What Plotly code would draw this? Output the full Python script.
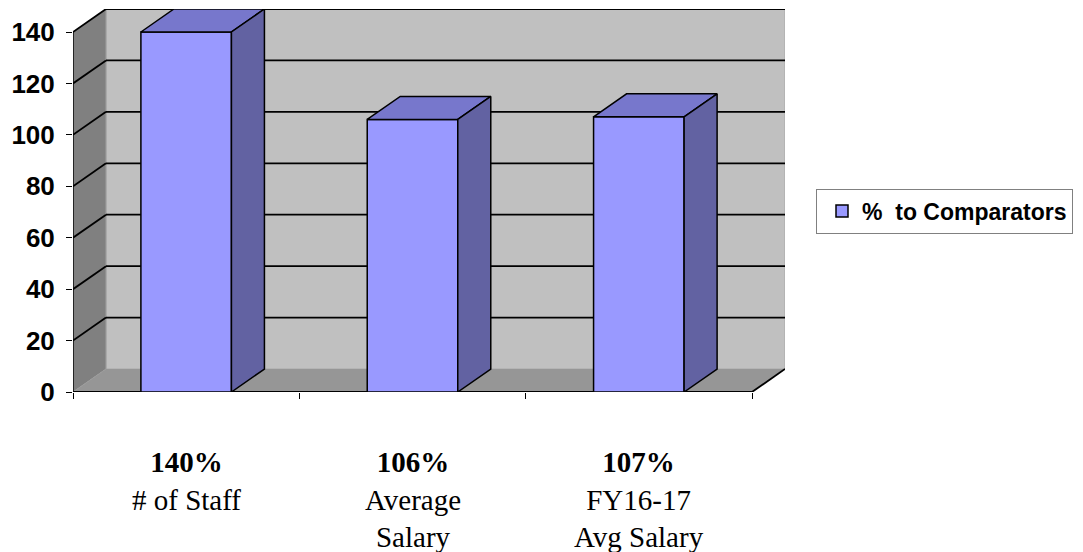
import plotly.graph_objects as go

# ---- data ----
categories = ["# of Staff", "Average<br>Salary", "FY16-17<br>Avg Salary"]
values = [140, 106, 107]
series_name = "%  to Comparators"
y_ticks = [0, 20, 40, 60, 80, 100, 120, 140]

# ---- geometry / style ----
W, H = 1083, 552
L, R, T, B = 73, 298, 9, 160
plot_w = W - L - R
plot_h = H - T - B
DEPTH_X_PX, DEPTH_Y_PX = 33, 23

n = len(categories)
ymax = max(y_ticks)
dx = DEPTH_X_PX * n / (plot_w - DEPTH_X_PX)
dy = DEPTH_Y_PX * ymax / (plot_h - DEPTH_Y_PX)
x0, x1 = -0.5, n - 0.5
bw = 0.4

FRONT = "#9999FF"
TOP = "#7777CC"
SIDE = "#6262A2"
BACKWALL = "#C0C0C0"
SIDEWALL = "#808080"
FLOOR = "#969696"

shapes = []
# back wall
shapes.append(dict(type="rect", xref="x", yref="y", layer="below",
                   x0=x0 + dx, x1=x1 + dx, y0=dy, y1=ymax + dy,
                   fillcolor=BACKWALL, line=dict(color="#A8A8A8", width=1)))
# left wall
shapes.append(dict(type="path", xref="x", yref="y", layer="below",
                   path=f"M{x0},0 L{x0},{ymax} L{x0+dx},{ymax+dy} L{x0+dx},{dy} Z",
                   fillcolor=SIDEWALL, line=dict(color="#A0A0A0", width=1)))
# floor
shapes.append(dict(type="path", xref="x", yref="y", layer="below",
                   path=f"M{x0},0 L{x1},0 L{x1+dx},{dy} L{x0+dx},{dy} Z",
                   fillcolor=FLOOR, line=dict(width=0)))
# gridlines on walls
for t in y_ticks:
    if t == 0:
        continue
    shapes.append(dict(type="line", xref="x", yref="y", layer="below",
                       x0=x0 + dx, x1=x1 + dx, y0=t + dy, y1=t + dy,
                       line=dict(color="black", width=1.8)))
    shapes.append(dict(type="line", xref="x", yref="y", layer="below",
                       x0=x0, x1=x0 + dx, y0=t, y1=t + dy,
                       line=dict(color="black", width=1.8)))
# front edges
shapes.append(dict(type="line", xref="x", yref="y", layer="below",
                   x0=x0, x1=x0, y0=0, y1=ymax, line=dict(color="black", width=1.5)))
shapes.append(dict(type="line", xref="x", yref="y", layer="below",
                   x0=x0, x1=x1, y0=0, y1=0, line=dict(color="black", width=2.2)))
shapes.append(dict(type="line", xref="x", yref="y", layer="below",
                   x0=x1, x1=x1 + dx, y0=0, y1=dy, line=dict(color="black", width=1.8)))

fig = go.Figure()
xs = list(range(n))
fig.add_trace(go.Bar(x=xs, y=values, width=bw, name=series_name,
                     marker=dict(color=FRONT, line=dict(color="black", width=1.5)),
                     showlegend=True))

for xi, v in zip(xs, values):
    l, r = xi - bw / 2, xi + bw / 2
    # top face
    fig.add_trace(go.Scatter(x=[l, r, r + dx, l + dx, l], y=[v, v, v + dy, v + dy, v],
                             mode="lines", fill="toself", fillcolor=TOP,
                             line=dict(color="black", width=1.5), showlegend=False,
                             hoverinfo="skip"))
    # side face
    fig.add_trace(go.Scatter(x=[r, r + dx, r + dx, r, r], y=[0, dy, v + dy, v, 0],
                             mode="lines", fill="toself", fillcolor=SIDE,
                             line=dict(color="black", width=1.5), showlegend=False,
                             hoverinfo="skip"))

annotations = []
for xi, c, v in zip(xs, categories, values):
    annotations.append(dict(x=xi, y=0, xref="x", yref="y", yanchor="top", xanchor="center",
                            yshift=-52, showarrow=False, align="center",
                            text=f"<b>{v}%</b><br>{c}",
                            font=dict(family="Liberation Serif", size=29, color="black")))

fig.update_layout(
    width=W, height=H,
    margin=dict(l=L, r=R, t=T, b=B, pad=0),
    paper_bgcolor="white", plot_bgcolor="white",
    shapes=shapes, annotations=annotations,
    showlegend=True,
    legend=dict(x=(816 - L) / plot_w, y=(H - B - 211) / plot_h, xanchor="left", yanchor="middle",
                bgcolor="white", bordercolor="#808080", borderwidth=1, indentation=5,
                font=dict(family="Liberation Sans", size=23, color="black", weight="bold")),
    xaxis=dict(range=[x0, x1 + dx], showgrid=False, zeroline=False, showline=False,
               tickvals=[x0 + i for i in range(n + 1)], ticktext=[""] * (n + 1),
               ticks="outside", ticklen=6, tickcolor="black", tickwidth=1, fixedrange=True),
    yaxis=dict(range=[0, ymax + dy], showgrid=False, zeroline=False, showline=False,
               tickvals=y_ticks, ticktext=[str(t) for t in y_ticks],
               ticks="outside", ticklen=6, tickcolor="black", tickwidth=1,
               ticklabelstandoff=6,
               tickfont=dict(family="Liberation Sans", size=26, color="black", weight="bold"),
               fixedrange=True),
)

fig.write_html("out.html")
